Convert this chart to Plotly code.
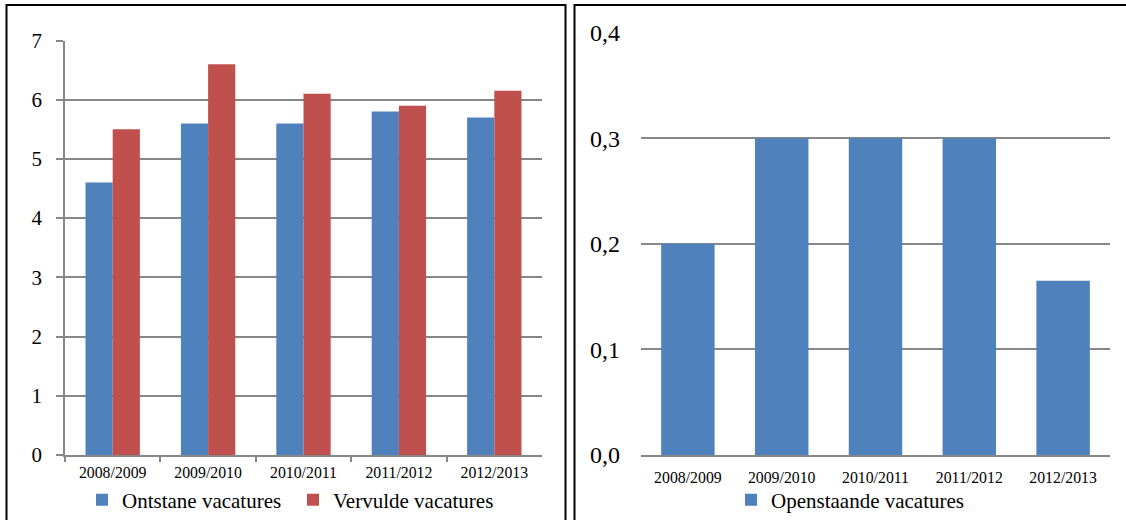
import plotly.graph_objects as go

# Schooljaren en aantallen vacatures
years = ["2008/2009", "2009/2010", "2010/2011", "2011/2012", "2012/2013"]
ontstane = [4.6, 5.6, 5.6, 5.8, 5.7]
vervulde = [5.5, 6.6, 6.1, 5.9, 6.15]
openstaande = [0.2, 0.3, 0.3, 0.3, 0.165]

W, H = 1126, 520
FONT = "Liberation Serif, Times New Roman, Times, serif"
GRID = "#878787"
BLUE = "#4F81BD"
RED = "#C0504D"


def px_x(x):
    return x / W


def px_y(y):
    return 1 - y / H


fig = go.Figure()

fig.add_trace(go.Bar(x=years, y=ontstane, name="Ontstane vacatures",
                     marker=dict(color=BLUE, line=dict(width=0)),
                     xaxis="x", yaxis="y", legend="legend"))
fig.add_trace(go.Bar(x=years, y=vervulde, name="Vervulde vacatures",
                     marker=dict(color=RED, line=dict(width=0)),
                     xaxis="x", yaxis="y", legend="legend"))
fig.add_trace(go.Bar(x=years, y=openstaande, name="Openstaande vacatures",
                     marker=dict(color=BLUE, line=dict(width=0)),
                     xaxis="x2", yaxis="y2", legend="legend2"))

axis_font = dict(family=FONT, size=15.8, color="black")
legend_font = dict(family=FONT, size=21, color="black")

fig.update_layout(
    width=W, height=H, autosize=False,
    margin=dict(l=0, r=0, t=0, b=0, pad=0, autoexpand=False),
    paper_bgcolor="white", plot_bgcolor="white",
    font=dict(family=FONT, color="black"),
    separators=",.",
    barmode="group", bargap=0.43, bargroupgap=0,
    xaxis=dict(domain=[px_x(65), px_x(542)], anchor="y", automargin=False,
               showline=True, linecolor=GRID, linewidth=1.5,
               ticks="outside", tickson="boundaries", ticklen=5,
               tickcolor=GRID, tickwidth=1.5, ticklabelstandoff=2,
               tickfont=axis_font, showgrid=False),
    yaxis=dict(domain=[px_y(455), px_y(40.5)], anchor="x", automargin=False,
               range=[0, 7], dtick=1, tick0=0,
               showline=True, linecolor=GRID, linewidth=1.5,
               ticks="outside", ticklen=7, tickcolor=GRID, tickwidth=1.5,
               showgrid=True, gridcolor=GRID, gridwidth=1.5,
               zeroline=False, ticklabelstandoff=10,
               tickfont=dict(family=FONT, size=21, color="black")),
    xaxis2=dict(domain=[px_x(641), px_x(1110)], anchor="y2", automargin=False,
                showline=True, linecolor=GRID, linewidth=1.5,
                ticks="", ticklabelstandoff=7,
                tickfont=axis_font, showgrid=False),
    yaxis2=dict(domain=[px_y(455), px_y(32.7)], anchor="x2", automargin=False,
                range=[0, 0.4], dtick=0.1, tick0=0, tickformat=".1f",
                showline=False, ticks="",
                showgrid=True, gridcolor=GRID, gridwidth=1.5,
                zeroline=False, ticklabelstandoff=20,
                tickfont=dict(family=FONT, size=24, color="black")),
    legend=dict(orientation="h", x=px_x(82), y=px_y(500),
                xanchor="left", yanchor="middle",
                entrywidth=166, entrywidthmode="pixels",
                font=legend_font,
                bgcolor="rgba(0,0,0,0)", traceorder="normal"),
    legend2=dict(orientation="h", x=px_x(731), y=px_y(500),
                 xanchor="left", yanchor="middle",
                 font=legend_font,
                 bgcolor="rgba(0,0,0,0)"),
    shapes=[
        # frame around the left panel
        dict(type="path", xref="paper", yref="paper",
             path=f"M {px_x(6.5)},{px_y(530)} L {px_x(6.5)},{px_y(5)} "
                  f"L {px_x(565.5)},{px_y(5)} L {px_x(565.5)},{px_y(530)}",
             line=dict(color="black", width=2)),
        # frame around the right panel
        dict(type="path", xref="paper", yref="paper",
             path=f"M {px_x(574.5)},{px_y(530)} L {px_x(574.5)},{px_y(5)} "
                  f"L {px_x(1130)},{px_y(5)}",
             line=dict(color="black", width=2)),
    ],
)

fig.write_html("out.html")
